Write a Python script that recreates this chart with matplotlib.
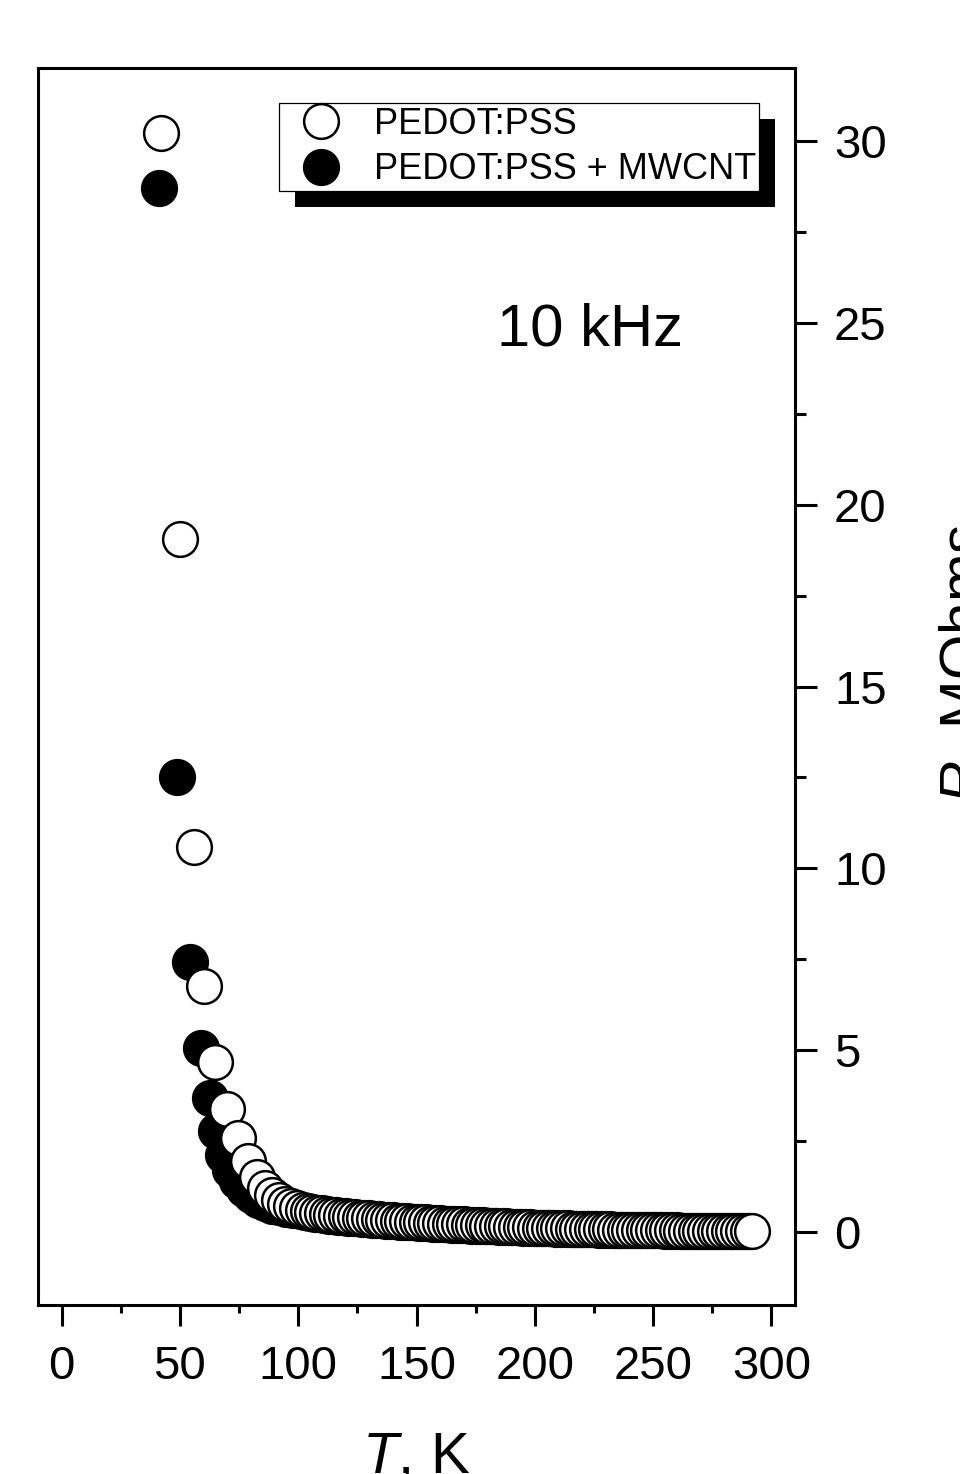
import matplotlib
matplotlib.use("Agg")
import matplotlib.pyplot as plt
from matplotlib.patches import Rectangle
from matplotlib.transforms import IdentityTransform
from matplotlib.ticker import MultipleLocator

plt.rcParams['font.family'] = ['Liberation Sans', 'DejaVu Sans']
plt.rcParams['mathtext.fontset'] = 'custom'
plt.rcParams['mathtext.rm'] = 'Liberation Sans'
plt.rcParams['mathtext.it'] = 'Liberation Sans:italic'

# PEDOT:PSS (open circles)
t_pss = [42.0, 50.0, 56.0, 60.1, 64.7, 69.7, 74.5, 78.8, 82.5, 86.0,
         88.9, 91.7, 94.4, 97.0, 99.5,
         102, 104, 106, 108, 110, 112, 114, 116, 118, 120,
         122, 124, 126, 128, 130, 132, 134, 136, 138, 140,
         142, 144, 146, 148, 150, 152, 154, 156, 158, 160,
         162, 164, 166, 168, 170, 172, 174, 176, 178, 180,
         182, 184, 186, 188, 190, 192, 194, 196, 198, 200,
         202, 204, 206, 208, 210, 212, 214, 216, 218, 220,
         222, 224, 226, 228, 230, 232, 234, 236, 238, 240,
         242, 244, 246, 248, 250, 252, 254, 256, 258, 260,
         262, 264, 266, 268, 270, 272, 274, 276, 278, 280,
         282, 284, 286, 288, 290, 292]
r_pss = [30.2, 19.05, 10.6, 6.78, 4.67, 3.40, 2.58, 1.97, 1.52, 1.22,
         1.02, 0.88, 0.78, 0.71, 0.66,
         0.62, 0.59, 0.565, 0.54, 0.52, 0.50, 0.48, 0.465, 0.45, 0.435,
         0.42, 0.41, 0.40, 0.39, 0.38, 0.37, 0.36, 0.35, 0.34, 0.33,
         0.32, 0.31, 0.30, 0.29, 0.285, 0.28, 0.27, 0.26, 0.255, 0.25,
         0.24, 0.235, 0.23, 0.22, 0.215, 0.21, 0.20, 0.195, 0.19, 0.18,
         0.175, 0.17, 0.165, 0.16, 0.155, 0.15, 0.145, 0.14, 0.135, 0.13,
         0.125, 0.12, 0.117, 0.113, 0.11, 0.106, 0.103, 0.10, 0.097, 0.094,
         0.091, 0.088, 0.085, 0.082, 0.08, 0.077, 0.075, 0.072, 0.07, 0.068,
         0.066, 0.064, 0.062, 0.06, 0.058, 0.056, 0.054, 0.052, 0.05, 0.049,
         0.047, 0.046, 0.044, 0.043, 0.042, 0.04, 0.039, 0.038, 0.037, 0.036,
         0.035, 0.034, 0.033, 0.032, 0.031, 0.03]

# PEDOT:PSS + MWCNT (filled circles)
t_cnt = [41.0, 48.7, 54.2, 59.1, 62.6, 65.2, 68.1, 71.0, 74.0, 77.0,
         80.0, 83.0, 86.0, 89.0, 92.0, 95.0, 98.0,
         101, 103, 105, 107, 109, 111, 113, 115, 117, 119,
         121, 123, 125, 127, 129, 131, 133, 135, 137, 139,
         141, 143, 145, 147, 149, 151, 153, 155, 157, 159,
         161, 163, 165, 167, 169, 171, 173, 175, 177, 179,
         181, 183, 185, 187, 189, 191, 193, 195, 197, 199,
         201, 203, 205, 207, 209, 211, 213, 215, 217, 219,
         221, 223, 225, 227, 229, 231, 233, 235, 237, 239,
         241, 243, 245, 247, 249, 251, 253, 255, 257, 259,
         261, 263, 265, 267, 269, 271, 273, 275, 277, 279,
         281, 283, 285, 287, 289, 291]
r_cnt = [28.7, 12.5, 7.44, 5.06, 3.69, 2.77, 2.13, 1.72, 1.42, 1.20,
         1.02, 0.89, 0.80, 0.73, 0.68, 0.64, 0.61,
         0.58, 0.555, 0.53, 0.51, 0.49, 0.47, 0.455, 0.44, 0.425, 0.41,
         0.40, 0.39, 0.38, 0.37, 0.36, 0.35, 0.34, 0.33, 0.32, 0.31,
         0.30, 0.29, 0.28, 0.275, 0.27, 0.26, 0.25, 0.245, 0.24, 0.23,
         0.225, 0.22, 0.21, 0.205, 0.20, 0.19, 0.185, 0.18, 0.175, 0.17,
         0.165, 0.16, 0.155, 0.15, 0.145, 0.14, 0.135, 0.13, 0.125, 0.12,
         0.116, 0.112, 0.108, 0.104, 0.10, 0.097, 0.094, 0.091, 0.088, 0.085,
         0.082, 0.08, 0.077, 0.075, 0.072, 0.07, 0.068, 0.066, 0.064, 0.062,
         0.06, 0.058, 0.056, 0.054, 0.052, 0.05, 0.049, 0.047, 0.046, 0.044,
         0.043, 0.042, 0.04, 0.039, 0.038, 0.037, 0.036, 0.035, 0.034, 0.033,
         0.032, 0.031, 0.03, 0.029, 0.028, 0.027]

fig = plt.figure(figsize=(9.6, 14.74), dpi=100)
ax = fig.add_axes([38/960, 1 - 1305/1474, 757/960, 1237/1474])

ax.plot(t_cnt, r_cnt, ls='none', marker='o', ms=25, mfc='black', mec='black',
        mew=1.8, label='PEDOT:PSS + MWCNT', zorder=2)
ax.plot(t_pss, r_pss, ls='none', marker='o', ms=25, mfc='white', mec='black',
        mew=1.8, label='PEDOT:PSS', zorder=3)

ax.set_xlim(-10, 310)
ax.set_ylim(-2, 32)
ax.xaxis.set_major_locator(MultipleLocator(50))
ax.xaxis.set_minor_locator(MultipleLocator(25))
ax.yaxis.set_major_locator(MultipleLocator(5))
ax.yaxis.set_minor_locator(MultipleLocator(2.5))
ax.yaxis.tick_right()
ax.tick_params(which='both', direction='out', width=2.2, colors='black',
               labelsize=34, top=False, left=False, right=True, bottom=True)
ax.tick_params(axis='x', which='major', length=15, pad=14)
ax.tick_params(axis='x', which='minor', length=6)
ax.tick_params(axis='y', which='major', length=16, pad=12)
ax.tick_params(axis='y', which='minor', length=8)
for s in ax.spines.values():
    s.set_linewidth(2.2)

handles, labels = ax.get_legend_handles_labels()
leg = ax.legend(handles[::-1], labels[::-1], loc='upper left',
                bbox_to_anchor=(279/960, 1 - 103/1474),
                bbox_transform=fig.transFigure, fontsize=26, numpoints=1,
                frameon=True, fancybox=False, shadow=False, framealpha=1,
                edgecolor='black', borderpad=0.1, handlelength=2.1,
                handletextpad=0.42, labelspacing=0.3, borderaxespad=0)
leg.get_frame().set_linewidth(0.9)

fig.text(497/960, 1 - 346/1474, '10 kHz', fontsize=43, ha='left', va='baseline')
fig.text(416/960, 1 - 1430/1474, '$T$, K', fontsize=42, ha='center', va='top')
fig.text(938/960, 1 - 664/1474, '$R$, MOhms', fontsize=42, rotation=90,
         ha='left', va='center')

# black drop shadow behind the legend box
fig.canvas.draw()
bb = leg.get_frame().get_window_extent()
ax.add_patch(Rectangle((bb.x0 + 16, bb.y0 - 16), bb.width, bb.height,
                       transform=IdentityTransform(), facecolor='black',
                       edgecolor='none', zorder=4.9))

fig.savefig('out.png', dpi=100)
